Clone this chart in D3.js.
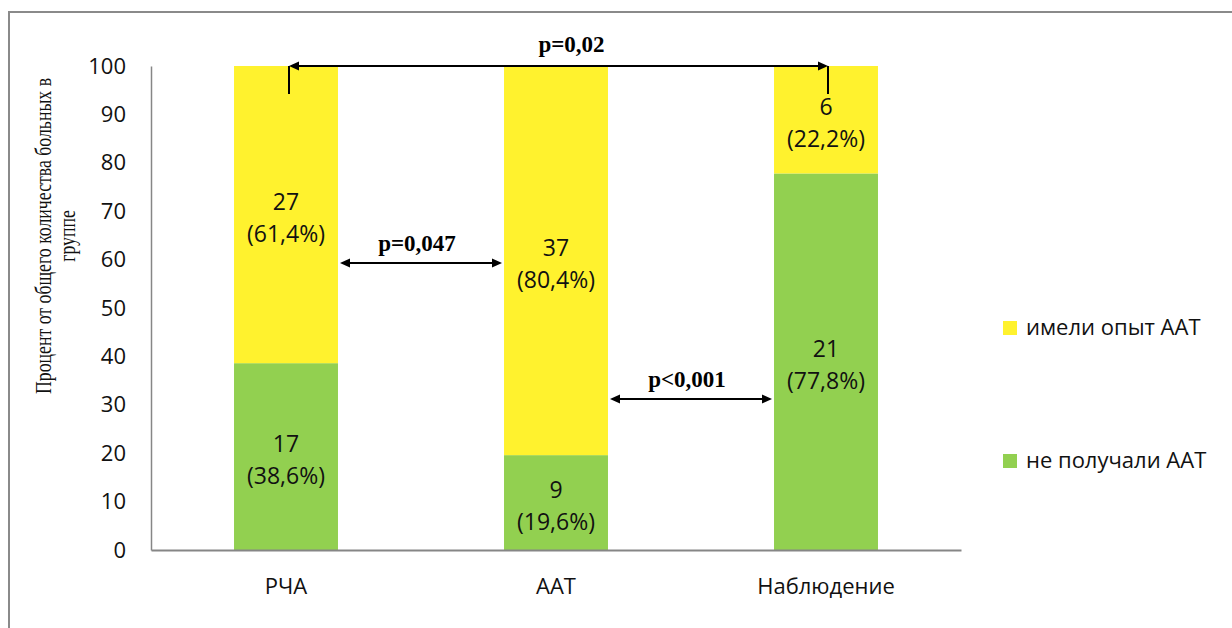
<!DOCTYPE html>
<html><head><meta charset="utf-8">
<script src="https://cdn.jsdelivr.net/npm/d3@7"></script>
<style>body{margin:0;background:#fff}svg{display:block}</style>
</head><body>
<svg id="c" width="1232" height="628"></svg>
<script>
// ---- data ----
const categories = ["РЧА", "ААТ", "Наблюдение"];
const seriesNames = ["имели опыт ААТ", "не получали ААТ"];
const notReceivedPct = [38.6, 19.6, 77.8];
const experiencedPct = [61.4, 80.4, 22.2];
const notReceivedN = [17, 9, 21];
const experiencedN = [27, 37, 6];
const yTicks = [0, 10, 20, 30, 40, 50, 60, 70, 80, 90, 100];
const compFrom = [0, 0, 1];
const compTo = [2, 1, 2];
const compLevel = [100, 59.3, 31.2];
const compLabel = ["p=0,02", "p=0,047", "p<0,001"];
const yTitle = ["Процент  от общего количества больных в", "группе"];

const GREEN = "#92D050", YELLOW = "#FFF22E", AXIS = "#868686";
const SANS = "'Open Sans', 'Noto Sans', sans-serif";
const SERIF = "'Liberation Serif', 'DejaVu Serif', serif";

const svg = d3.select("#c");
svg.append("rect").attr("x", 9).attr("y", 12).attr("width", 1400).attr("height", 800)
  .attr("fill", "#fff").attr("stroke", "#8a8a8a").attr("stroke-width", 2);

const x = d3.scaleBand(categories, [151, 961]).paddingInner(0.615).paddingOuter(0.3075);
const y = d3.scaleLinear([0, 100], [550, 66]);

// stacked data
const rows = categories.map((c, i) => ({cat: c, green: notReceivedPct[i], yellow: experiencedPct[i], gN: notReceivedN[i], yN: experiencedN[i]}));
const stack = d3.stack().keys(["green", "yellow"])(rows);
const colors = {green: GREEN, yellow: YELLOW};
const counts = {green: "gN", yellow: "yN"};

const g = svg.append("g");
stack.forEach(layer => {
  g.selectAll(null).data(layer).join("rect")
    .attr("x", d => x(d.data.cat))
    .attr("width", x.bandwidth())
    .attr("y", d => y(d[1]))
    .attr("height", d => y(d[0]) - y(d[1]))
    .attr("fill", colors[layer.key]);
  const lab = g.selectAll(null).data(layer).join("text")
    .attr("text-anchor", "middle")
    .attr("font-family", SANS).attr("font-size", 23).attr("fill", "#111");
  lab.append("tspan")
    .attr("x", d => x(d.data.cat) + x.bandwidth() / 2)
    .attr("y", d => y((d[0] + d[1]) / 2) - 5)
    .text(d => d.data[counts[layer.key]]);
  lab.append("tspan")
    .attr("x", d => x(d.data.cat) + x.bandwidth() / 2)
    .attr("y", d => y((d[0] + d[1]) / 2) + 27)
    .text(d => "(" + (d[1] - d[0]).toFixed(1).replace(".", ",") + "%)");
});

// axes
const ya = svg.append("g").attr("transform", "translate(151,0)")
  .call(d3.axisLeft(y).tickValues(yTicks).tickSize(0).tickSizeOuter(0).tickPadding(25));
ya.select(".domain").attr("stroke", AXIS).attr("stroke-width", 1.5);
ya.selectAll("text").attr("font-family", SANS).attr("font-size", 22).attr("fill", "#111");

const xa = svg.append("g").attr("transform", "translate(0,550)")
  .call(d3.axisBottom(x).tickSize(0).tickSizeOuter(0).tickPadding(28));
xa.select(".domain").attr("stroke", AXIS).attr("stroke-width", 2);
xa.selectAll("text").attr("font-family", SANS).attr("font-size", 22).attr("fill", "#111");

// y title (condensed along its direction)
const yt = svg.append("text").attr("transform", "translate(51,236) rotate(-90) scale(0.74,1)")
  .attr("text-anchor", "middle").attr("font-family", SERIF).attr("font-size", 24).attr("fill", "#111");
yt.append("tspan").attr("x", 0).attr("y", 0).text(yTitle[0]);
yt.append("tspan").attr("x", 0).attr("y", 24).text(yTitle[1]);

// comparison arrows
function head(px, py, dir) { // dir -1 left, +1 right
  const L = 10, W = 4.5;
  return `M${px},${py}L${px - dir * L},${py - W}L${px - dir * L},${py + W}Z`;
}
const cg = svg.append("g");
compFrom.forEach((f, i) => {
  const t = compTo[i], yy = y(compLevel[i]);
  let x1, x2;
  if (t - f > 1) {
    x1 = x(categories[f]) + x.bandwidth() / 2 + 3;
    x2 = x(categories[t]) + x.bandwidth() / 2 + 2;
    cg.append("line").attr("x1", x1).attr("x2", x1).attr("y1", yy).attr("y2", yy + 28).attr("stroke", "#000").attr("stroke-width", 2);
    cg.append("line").attr("x1", x2).attr("x2", x2).attr("y1", yy).attr("y2", yy + 28).attr("stroke", "#000").attr("stroke-width", 2);
  } else {
    x1 = x(categories[f]) + x.bandwidth() + 2;
    x2 = x(categories[t]) - 2;
  }
  cg.append("line").attr("x1", x1 + 8).attr("x2", x2 - 8).attr("y1", yy).attr("y2", yy).attr("stroke", "#000").attr("stroke-width", 2);
  cg.append("path").attr("d", head(x1, yy, -1)).attr("fill", "#000");
  cg.append("path").attr("d", head(x2, yy, 1)).attr("fill", "#000");
  cg.append("text").attr("x", (x1 + x2) / 2 + (t - f > 1 ? 13 : -4)).attr("y", yy - (t - f > 1 ? 14 : 12))
    .attr("text-anchor", "middle").attr("font-family", SERIF).attr("font-weight", "bold")
    .attr("font-size", 23).attr("fill", "#000").text(compLabel[i]);
});

// legend
const legColors = [YELLOW, GREEN];
const legY = [328, 461];
const lg = svg.append("g");
seriesNames.forEach((s, i) => {
  lg.append("rect").attr("x", 1003).attr("y", legY[i] - 7).attr("width", 14).attr("height", 14).attr("fill", legColors[i]);
  lg.append("text").attr("x", 1026).attr("y", legY[i] + 7).attr("font-family", SANS).attr("font-size", 22)
    .attr("fill", "#111").text(s);
});
</script>
</body></html>
